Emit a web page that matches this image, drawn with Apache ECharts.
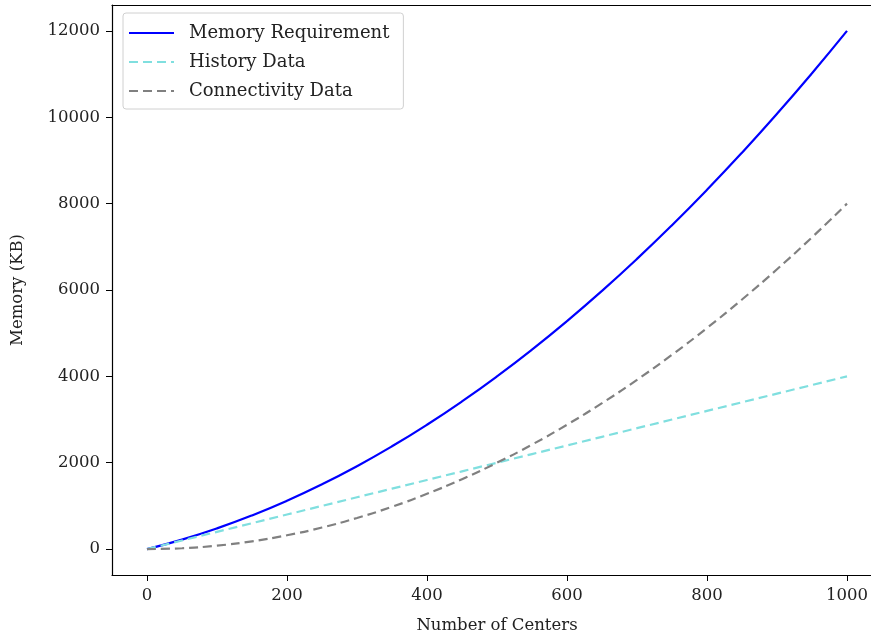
<!DOCTYPE html>
<html>
<head>
<meta charset="UTF-8">
<title>Memory vs Number of Centers</title>
<script src="https://cdn.jsdelivr.net/npm/echarts@6/dist/echarts.min.js"></script>
<style>
  * { margin: 0; padding: 0; }
  html, body { background: #fff; overflow: hidden; }
  #chart { width: 900px; height: 639px; }
</style>
</head>
<body>
<div id="chart"></div>
<script>
// values
const centers = [0, 50, 100, 150, 200, 250, 300, 350, 400, 450, 500, 550, 600, 650, 700, 750, 800, 850, 900, 950, 1000];
const memoryReq = [0, 220, 480, 780, 1120, 1500, 1920, 2380, 2880, 3420, 4000, 4620, 5280, 5980, 6720, 7500, 8320, 9180, 10080, 11020, 12000];
const historyData = [0, 200, 400, 600, 800, 1000, 1200, 1400, 1600, 1800, 2000, 2200, 2400, 2600, 2800, 3000, 3200, 3400, 3600, 3800, 4000];
const connectivityData = [0, 20, 80, 180, 320, 500, 720, 980, 1280, 1620, 2000, 2420, 2880, 3380, 3920, 4500, 5120, 5780, 6480, 7220, 8000];
const xTicks = [0, 200, 400, 600, 800, 1000];
const yTicks = [0, 2000, 4000, 6000, 8000, 10000, 12000];

const font = "'DejaVu Serif', 'Liberation Serif', serif";
const chart = echarts.init(document.getElementById('chart'));

function pairs(ys) {
  return centers.map((x, i) => [x, ys[i]]);
}

const spine = { show: true, onZero: false, lineStyle: { color: '#000', width: 1.2 } };

chart.setOption({
  animation: false,
  textStyle: { fontFamily: font },
  grid: {
    left: 112, top: 5, width: 770, height: 570,
    outerBoundsMode: 'none', containLabel: false
  },
  legend: {
    left: 123, top: 13, orient: 'vertical',
    padding: [11, 14, 9, 5],
    itemGap: 11, itemWidth: 45, itemHeight: 14,
    backgroundColor: '#fff', borderColor: '#d0d0d0', borderWidth: 1, borderRadius: 3,
    itemStyle: { opacity: 0 },
    textStyle: { fontFamily: font, fontSize: 18, color: '#222', padding: [0, 0, 0, 10] },
    data: ['Memory Requirement', 'History Data', 'Connectivity Data']
  },
  xAxis: [
    {
      type: 'value', min: -50, max: 1050, position: 'bottom',
      name: 'Number of Centers', nameLocation: 'middle', nameGap: 42,
      nameTextStyle: { fontFamily: font, fontSize: 16.5, color: '#222' },
      splitLine: { show: false },
      axisLine: spine,
      axisTick: { show: true, length: 6, customValues: xTicks, lineStyle: { color: '#000' } },
      axisLabel: { customValues: xTicks, formatter: v => String(v), fontFamily: font, fontSize: 16.5, color: '#222', margin: 12 }
    },
    {
      type: 'value', min: -50, max: 1050, position: 'top',
      splitLine: { show: false }, axisLine: spine,
      axisTick: { show: false }, axisLabel: { show: false }
    }
  ],
  yAxis: {
    type: 'value', min: -600, max: 12600,
    name: 'Memory (KB)', nameLocation: 'middle', nameGap: 86,
    nameTextStyle: { fontFamily: font, fontSize: 16.5, color: '#222' },
    splitLine: { show: false },
    axisLine: spine,
    axisTick: { show: true, length: 6, customValues: yTicks, lineStyle: { color: '#000' } },
    axisLabel: { customValues: yTicks, formatter: v => String(v), fontFamily: font, fontSize: 16.5, color: '#222', margin: 12 }
  },
  series: [
    {
      name: 'Memory Requirement', type: 'line', data: pairs(memoryReq),
      smooth: true, showSymbol: false, symbol: 'none',
      lineStyle: { color: '#0000ff', width: 2.2 }, itemStyle: { color: '#0000ff' }
    },
    {
      name: 'History Data', type: 'line', data: pairs(historyData),
      showSymbol: false, symbol: 'none',
      lineStyle: { color: '#80dfdf', width: 2.2, type: [9, 5] }, itemStyle: { color: '#80dfdf' }
    },
    {
      name: 'Connectivity Data', type: 'line', data: pairs(connectivityData),
      smooth: true, showSymbol: false, symbol: 'none',
      lineStyle: { color: '#808080', width: 2.2, type: [9, 5] }, itemStyle: { color: '#808080' }
    }
  ]
});
</script>
</body>
</html>
